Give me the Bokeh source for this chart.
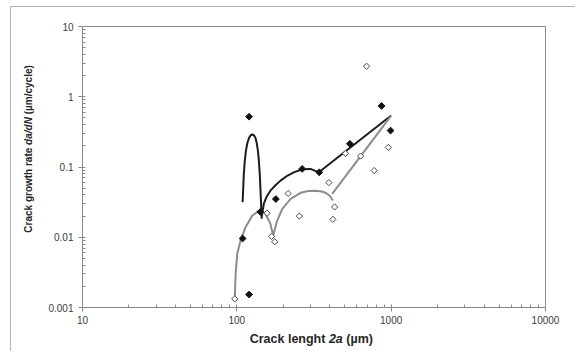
import math
from bokeh.plotting import figure
from bokeh.models import Title, FixedTicker, CustomJSTickFormatter, Range1d
from bokeh.embed import file_html
from bokeh.resources import INLINE

# ---- data ----
black_x = [120, 120, 109, 142, 179, 265, 342, 540, 867, 991]
black_y = [0.52, 0.00153, 0.0096, 0.023, 0.035, 0.094, 0.084, 0.214, 0.74, 0.33]

open_x = [97, 157, 168, 176, 215, 254, 395, 430, 419, 506, 634, 693, 777, 958]
open_y = [0.00133, 0.022, 0.0103, 0.0086, 0.042, 0.020, 0.060, 0.027, 0.018,
          0.156, 0.143, 2.72, 0.089, 0.19]

black_loop_x = [109, 110, 111, 112.5, 114.5, 117, 120, 123, 126, 129, 132, 134.5, 137, 139, 141, 143, 145]
black_loop_y = [0.0316, 0.05, 0.080, 0.12, 0.17, 0.22, 0.26, 0.283, 0.290, 0.283, 0.26, 0.22, 0.17, 0.12, 0.075, 0.037, 0.0183]

black_trend_x = [145, 149.6, 156, 165, 178, 192, 212, 234, 265, 300, 340, 1000]
black_trend_y = [0.020, 0.030, 0.038, 0.046, 0.055, 0.064, 0.075, 0.084, 0.093, 0.094, 0.084, 0.54]

gray_arch_x = [97.1, 98.2, 100.6, 105.7, 113.9, 126, 138.9, 153.5, 165, 172,
               182.6, 197, 223, 259, 290, 324, 355, 376, 400, 419]
gray_arch_y = [0.0014, 0.003, 0.0058, 0.009, 0.0139, 0.0204, 0.0235, 0.0216, 0.0155, 0.0106,
               0.0173, 0.0254, 0.0352, 0.0429, 0.0455, 0.046, 0.0448, 0.0429, 0.039, 0.0334]

gray_line_x = [415, 1000]
gray_line_y = [0.0415, 0.54]

x_major = [10, 100, 1000, 10000]
y_major = [0.001, 0.01, 0.1, 1, 10]

x_title_parts = ["Crack lenght", "2a", "(\u00b5m)"]
y_title_parts = ["Crack growth rate", "da/dN", "(\u00b5m/cycle)"]

FONT = "Liberation Sans"
AXIS_GRAY = "#8a8a8a"
# canvas starts at page (11, 7) thanks to margin + 1px border
W, H = 565, 345

p = figure(width=W, height=H, x_axis_type="log", y_axis_type="log",
           x_range=Range1d(10, 10000), y_range=Range1d(0.001, 10),
           output_backend="svg", toolbar_location=None,
           min_border_left=71, min_border_right=31, min_border_top=19, min_border_bottom=45)
p.xgrid.visible = False
p.ygrid.visible = False
p.outline_line_color = AXIS_GRAY
p.outline_line_width = 1
p.background_fill_color = "white"
p.border_fill_color = "white"
p.styles = {"margin-left": "10px", "margin-top": "6px",
            "border-left": "1px solid #b4b4b4", "border-top": "1px solid #b4b4b4"}

x_minor = [m * 10 ** e for e in range(1, 4) for m in range(2, 10)]
y_minor = [m * 10.0 ** e for e in range(-3, 1) for m in range(2, 10)]
p.xaxis.ticker = FixedTicker(ticks=x_major, minor_ticks=x_minor)
p.yaxis.ticker = FixedTicker(ticks=y_major, minor_ticks=y_minor)
p.xaxis.formatter = CustomJSTickFormatter(code="return tick.toString();")
p.yaxis.formatter = CustomJSTickFormatter(code="return tick.toString();")

for ax in (p.xaxis[0], p.yaxis[0]):
    ax.axis_line_color = AXIS_GRAY
    ax.major_tick_line_color = AXIS_GRAY
    ax.minor_tick_line_color = AXIS_GRAY
    ax.major_tick_in = 3
    ax.major_tick_out = 4
    ax.minor_tick_in = 3
    ax.minor_tick_out = 0
    ax.major_label_text_font = FONT
    ax.major_label_text_font_size = "10px"
    ax.major_label_text_color = "#3c3c3c"
p.yaxis.major_label_standoff = 5
p.xaxis.major_label_standoff = 4

# curves
p.line(black_loop_x, black_loop_y, line_color="#1c1c1c", line_width=2)
p.line(black_trend_x, black_trend_y, line_color="#1c1c1c", line_width=2)
p.line(gray_arch_x, gray_arch_y, line_color="#8c8c8c", line_width=2)
p.line(gray_line_x, gray_line_y, line_color="#8c8c8c", line_width=2)

# markers
p.scatter(open_x, open_y, marker="square", angle=math.pi / 4, size=4.4,
          fill_color="white", line_color="#4a4a4a", line_width=1)
p.scatter(black_x, black_y, marker="square", angle=math.pi / 4, size=4.8,
          fill_color="#111111", line_color="#111111", line_width=1)

# ---- axis titles: side-panel Titles (mixed bold / bold italic) ----
lab_col = "#262626"

# spacer rows (invisible) to push the titles outward
p.add_layout(Title(text=" ", text_font_size="1px", standoff=10), "below")
p.add_layout(Title(text=" ", text_font_size="1px", standoff=13), "left")

X_FS, X_H = 12.5, 14.0      # font size, approx. text box height
Y_FS, Y_H = 10.0, 11.4
x_styles = ["bold", "bold italic", "bold"]
x_offsets = [167.2, 246.4, 263.8]          # from frame left
y_styles = ["bold", "bold italic", "bold"]
y_offsets = [74.8, 162.6, 193.2]           # from frame bottom

for txt, style, off in zip(x_title_parts, x_styles, x_offsets):
    p.add_layout(Title(text=txt, align="left", vertical_align="top", offset=off,
                       standoff=-(2 + X_H), text_font=FONT, text_font_style=style,
                       text_font_size=f"{X_FS}px", text_color=lab_col), "below")

for txt, style, off in zip(y_title_parts, y_styles, y_offsets):
    p.add_layout(Title(text=txt, align="left", vertical_align="top", offset=off,
                       standoff=-(2 + Y_H), text_font=FONT, text_font_style=style,
                       text_font_size=f"{Y_FS}px", text_color=lab_col), "left")

open("out.html", "w").write(file_html(p, INLINE))
